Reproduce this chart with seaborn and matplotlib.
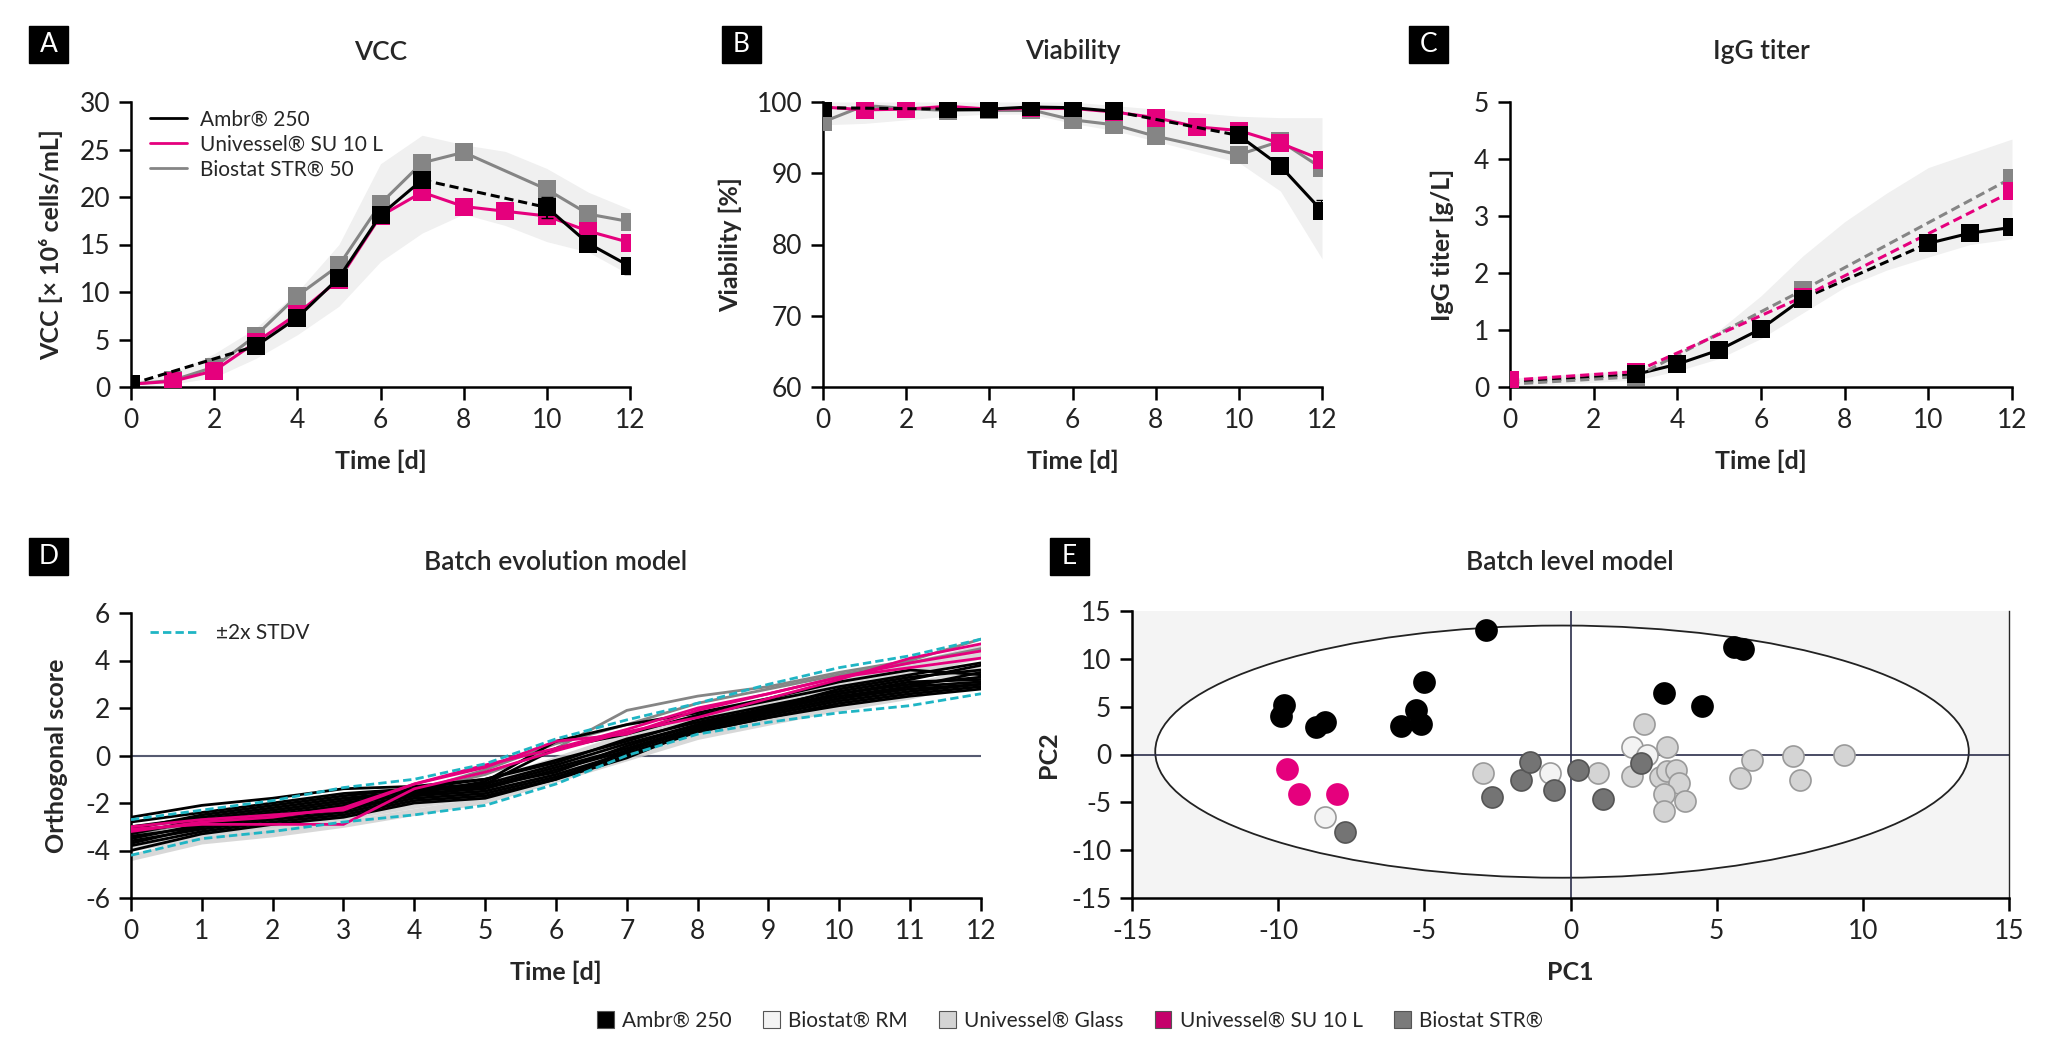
import numpy as np
import pandas as pd
import matplotlib
matplotlib.use("Agg")
import matplotlib.pyplot as plt
import seaborn as sns
from matplotlib.lines import Line2D
from matplotlib.patches import Patch, Ellipse, Rectangle

sns.set_style("ticks")
plt.rcParams['font.family'] = ['Lato', 'DejaVu Sans']
plt.rcParams['axes.unicode_minus'] = False

PINK = '#e5007d'
GREY = '#858585'
BAND = '#f0f0f0'

# ---------- A: VCC ----------
vcc_ambr_d = [0, 3, 4, 5, 6, 7, 10, 11, 12]
vcc_ambr = [0.3, 4.3, 7.3, 11.5, 18.1, 21.8, 18.9, 15.1, 12.7]
vcc_ambr_err = [0, 0, 0, 0, 0, 0, 1.1, 0, 0.8]
vcc_su_d = [0, 1, 2, 3, 4, 5, 6, 7, 8, 9, 10, 11, 12]
vcc_su = [0.3, 0.6, 1.7, 4.7, 7.7, 11.3, 18.0, 20.5, 19.0, 18.5, 18.0, 16.4, 15.2]
vcc_str_d = [0, 1, 2, 3, 4, 5, 6, 7, 8, 10, 11, 12]
vcc_str = [0.3, 0.7, 2.1, 5.4, 9.6, 12.8, 19.3, 23.6, 24.7, 20.8, 18.2, 17.4]
vcc_band_d = [0, 1, 2, 3, 4, 5, 6, 7, 8, 9, 10, 11, 12]
vcc_band_hi = [0.5, 1.5, 3.5, 6.2, 10.0, 15.0, 23.5, 26.5, 25.5, 24.8, 23.0, 20.5, 18.7]
vcc_band_lo = [0.0, 0.3, 1.0, 3.0, 5.5, 8.5, 13.2, 16.2, 18.2, 17.0, 15.3, 14.2, 11.8]

# ---------- B: Viability ----------
via_ambr_d = [0, 3, 4, 5, 6, 7, 10, 11, 12]
via_ambr = [99.2, 99.0, 99.0, 99.3, 99.2, 98.7, 95.3, 91.0, 84.7]
via_ambr_err = [0, 0, 0, 0, 0, 0, 0, 0, 1.5]
via_su_d = [0, 1, 2, 3, 4, 5, 6, 7, 8, 9, 10, 11, 12]
via_su = [99.3, 98.9, 99.0, 99.4, 99.0, 99.1, 99.1, 98.6, 97.8, 96.5, 96.0, 94.2, 91.9]
via_str_d = [0, 1, 2, 3, 4, 5, 6, 7, 8, 10, 11, 12]
via_str = [97.2, 99.5, 99.1, 98.8, 98.9, 98.9, 97.5, 96.8, 95.2, 92.6, 94.5, 90.7]
via_band_d = [0, 1, 2, 3, 4, 5, 6, 7, 8, 9, 10, 11, 12]
via_band_hi = [100, 100, 100, 100, 100, 100, 100, 99.5, 99.0, 98.5, 98.0, 97.8, 97.8]
via_band_lo = [96.8, 97.0, 97.5, 98.0, 98.3, 98.3, 97.0, 96.0, 94.5, 93.0, 91.5, 87.5, 78.0]

# ---------- C: IgG titer ----------
igg_ambr_d = [0, 3, 4, 5, 6, 7, 10, 11, 12]
igg_ambr = [0.08, 0.22, 0.40, 0.65, 1.02, 1.55, 2.52, 2.70, 2.80]
igg_su_d = [0, 3, 7, 12]
igg_su = [0.12, 0.27, 1.58, 3.43]
igg_str_d = [0, 3, 7, 12]
igg_str = [0.05, 0.18, 1.70, 3.67]
igg_band_d = [0, 3, 4, 5, 6, 7, 8, 9, 10, 11, 12]
igg_band_hi = [0.15, 0.30, 0.60, 1.00, 1.60, 2.30, 2.90, 3.40, 3.85, 4.10, 4.35]
igg_band_lo = [0.0, 0.12, 0.28, 0.50, 0.85, 1.30, 1.75, 2.05, 2.28, 2.50, 2.60]

# ---------- D: batch evolution model ----------
bem_days = list(range(13))
bem_black = [
    [-2.6, -2.1, -1.8, -1.4, -1.3, -1.0, -0.2, 0.6, 1.5, 2.1, 2.7, 3.2, 3.8],
    [-2.8, -2.4, -2.0, -1.6, -1.4, -1.2, -0.4, 0.5, 1.3, 1.9, 2.5, 2.9, 3.5],
    [-3.0, -2.6, -2.2, -1.8, -1.5, -1.3, -0.5, 0.3, 1.2, 1.8, 2.4, 2.9, 3.1],
    [-3.2, -2.8, -2.4, -2.0, -1.6, -1.4, -0.6, 0.2, 1.1, 1.7, 2.3, 2.7, 3.0],
    [-3.4, -3.0, -2.6, -2.2, -1.7, -1.5, -0.8, 0.1, 1.0, 1.6, 2.2, 2.6, 2.9],
    [-3.6, -3.1, -2.7, -2.4, -1.8, -1.6, -0.9, 0.0, 1.0, 1.6, 2.1, 2.5, 2.8],
    [-3.8, -3.2, -2.8, -2.5, -1.9, -1.7, -1.0, -0.1, 1.1, 1.8, 2.4, 2.8, 3.0],
    [-4.0, -3.3, -2.9, -2.6, -2.0, -1.8, -1.0, 0.2, 1.2, 1.9, 2.6, 3.0, 3.3],
    [-3.3, -2.7, -2.3, -1.9, -1.5, -1.2, 0.3, 0.9, 1.7, 2.3, 2.9, 3.4, 3.9],
    [-3.5, -2.9, -2.5, -2.1, -1.6, -1.1, 0.6, 1.3, 1.8, 2.4, 3.1, 3.6, 3.4],
    [-3.1, -2.5, -2.1, -1.7, -1.4, -1.0, -0.3, 0.7, 1.4, 2.0, 2.8, 3.3, 3.6],
    [-3.7, -3.0, -2.6, -2.3, -1.7, -1.3, -0.7, 0.4, 1.3, 2.0, 2.6, 3.1, 3.2],
]
bem_grey = [
    [-3.3, -2.8, -2.4, -1.9, -1.5, -0.8, 0.3, 1.9, 2.5, 2.9, 3.5, 4.0, 4.9],
    [-3.0, -2.7, -2.3, -2.0, -1.5, -0.6, 0.5, 1.3, 2.2, 2.8, 3.4, 3.9, 4.5],
]
bem_light = [
    [-4.3, -3.6, -3.3, -2.9, -2.4, -1.9, -1.0, -0.1, 0.8, 1.4, 2.0, 2.5, 3.2],
    [-3.9, -3.4, -3.1, -2.6, -2.1, -1.6, -0.7, 0.2, 1.0, 1.6, 2.3, 2.9, 3.6],
    [-3.6, -3.2, -2.9, -2.4, -1.9, -1.4, -0.5, 0.5, 1.3, 2.0, 2.8, 3.5, 4.2],
    [-3.4, -3.0, -2.7, -2.2, -1.7, -1.2, -0.2, 0.8, 1.6, 2.3, 3.1, 3.8, 4.5],
]
bem_pink = [
    [-3.0, -2.7, -2.5, -2.3, -1.2, -0.5, 0.6, 0.9, 1.9, 2.6, 3.3, 3.9, 4.4],
    [-3.1, -2.9, -2.9, -2.9, -1.4, -0.7, 0.2, 1.0, 1.6, 2.4, 3.2, 4.1, 4.7],
    [-3.2, -2.8, -2.6, -2.2, -1.2, -0.4, 0.3, 1.1, 2.0, 2.6, 3.3, 3.7, 4.1],
]
bem_upper = [-2.7, -2.3, -1.9, -1.35, -1.0, -0.35, 0.7, 1.5, 2.2, 3.0, 3.7, 4.2, 4.9]
bem_lower = [-4.2, -3.5, -3.2, -2.8, -2.5, -2.1, -1.2, 0.0, 0.9, 1.4, 1.8, 2.1, 2.6]

# ---------- E: batch level model ----------
blm_groups = ['Ambr® 250', 'Biostat® RM', 'Univessel® Glass', 'Univessel® SU 10 L', 'Biostat STR®']
blm_ambr_x = [-2.9, 5.6, 5.9, 3.2, 4.5, -5.0, -5.3, -5.1, -5.8, -9.8, -9.9, -8.7, -8.4]
blm_ambr_y = [13.0, 11.2, 11.0, 6.4, 5.1, 7.6, 4.7, 3.2, 3.0, 5.2, 4.0, 2.9, 3.4]
blm_rm_x = [-8.4, -0.7, 2.1, 2.6]
blm_rm_y = [-6.5, -1.9, 0.8, 0.0]
blm_glass_x = [-3.0, 0.95, 2.1, 2.5, 3.3, 3.05, 3.3, 3.6, 3.7, 3.2, 3.9, 3.2, 5.8, 6.2, 7.6, 7.85, 9.35]
blm_glass_y = [-1.9, -1.9, -2.2, 3.2, 0.8, -2.3, -1.75, -1.65, -3.0, -4.1, -4.9, -5.9, -2.45, -0.6, -0.2, -2.7, 0.0]
blm_su_x = [-9.7, -9.3, -8.0]
blm_su_y = [-1.5, -4.1, -4.1]
blm_str_x = [-7.7, -2.7, -1.7, -1.4, -0.55, 0.27, 1.1, 2.4]
blm_str_y = [-8.05, -4.4, -2.7, -0.8, -3.7, -1.6, -4.7, -0.9]
blm_fill = {'Ambr® 250': '#000000', 'Biostat® RM': '#f3f3f3', 'Univessel® Glass': '#d4d4d4',
            'Univessel® SU 10 L': PINK, 'Biostat STR®': '#747474'}
blm_edge = {'Ambr® 250': '#000000', 'Biostat® RM': '#9a9a9a', 'Univessel® Glass': '#9a9a9a',
            'Univessel® SU 10 L': PINK, 'Biostat STR®': '#555555'}
legend_fill = ['#000000', '#f3f3f3', '#d4d4d4', '#c4006b', '#7a7a7a']

TICK_FS = 19
LABEL_FS = 18


def style_axis(ax):
    for s in ['top', 'right']:
        ax.spines[s].set_visible(False)
    for s in ['left', 'bottom']:
        ax.spines[s].set_linewidth(1.8)
        ax.spines[s].set_color('black')
    ax.tick_params(direction='out', length=9, width=1.8, labelsize=TICK_FS, pad=6,
                   colors='black', labelcolor='#222222')


def draw_series(ax, days, vals, color, gap_dash=False, all_dash=False, z=3):
    for i in range(len(days) - 1):
        dashed = all_dash or (gap_dash and days[i + 1] - days[i] > 1)
        ax.plot(days[i:i + 2], vals[i:i + 2], color=color, lw=2.2,
                ls=(0, (3, 1.6)) if dashed else '-', zorder=z)
    sns.scatterplot(x=days, y=vals, ax=ax, marker='s', s=170, color=color,
                    linewidth=0, zorder=z + 0.5, legend=False)


fig = plt.figure(figsize=(20.59, 10.38), dpi=100)

W, H = 2059, 1038


def axes_px(l, t, r, b):
    return fig.add_axes([l / W, 1 - b / H, (r - l) / W, (b - t) / H])


def letter(x, y, txt):
    fig.patches.append(Rectangle((x / W, 1 - (y + 37) / H), 39 / W, 37 / H,
                                 transform=fig.transFigure, color='black'))
    fig.text((x + 19.5) / W, 1 - (y + 18.5) / H, txt, color='white', fontsize=19,
             ha='center', va='center')


# Panel A
axA = axes_px(131, 102, 630, 387)
axA.fill_between(vcc_band_d, vcc_band_lo, vcc_band_hi, color=BAND, lw=0, zorder=1)
draw_series(axA, vcc_str_d, vcc_str, GREY)
draw_series(axA, vcc_su_d, vcc_su, PINK)
draw_series(axA, vcc_ambr_d, vcc_ambr, 'black', gap_dash=True, z=5)
axA.errorbar(vcc_ambr_d, vcc_ambr, yerr=vcc_ambr_err, fmt='none', ecolor='black',
             elinewidth=1.5, capsize=4, zorder=6)
axA.set_xlim(0, 12)
axA.set_ylim(0, 30)
axA.set_xticks(range(0, 13, 2))
axA.set_yticks(range(0, 31, 5))
style_axis(axA)
axA.set_xlabel('Time [d]', fontsize=LABEL_FS, fontweight='bold', labelpad=12)
axA.set_ylabel('VCC [× 10⁶ cells/mL]', fontsize=LABEL_FS, fontweight='bold', labelpad=12)
axA.legend(handles=[Line2D([0], [0], color='black', lw=2),
                    Line2D([0], [0], color=PINK, lw=2),
                    Line2D([0], [0], color=GREY, lw=2)],
           labels=['Ambr® 250', 'Univessel® SU 10 L', 'Biostat STR® 50'],
           loc='upper left', bbox_to_anchor=(0.0, 1.04), frameon=False, fontsize=15,
           handlelength=1.8, handletextpad=0.6, labelspacing=0.25)

# Panel B
axB = axes_px(823, 102, 1322, 387)
axB.fill_between(via_band_d, via_band_lo, via_band_hi, color=BAND, lw=0, zorder=1)
draw_series(axB, via_str_d, via_str, GREY)
draw_series(axB, via_su_d, via_su, PINK)
draw_series(axB, via_ambr_d, via_ambr, 'black', gap_dash=True, z=5)
axB.errorbar(via_ambr_d, via_ambr, yerr=[[0] * len(via_ambr_err), via_ambr_err], fmt='none',
             ecolor='black', elinewidth=1.5, capsize=4, zorder=6)
axB.set_xlim(0, 12)
axB.set_ylim(60, 100)
axB.set_xticks(range(0, 13, 2))
axB.set_yticks(range(60, 101, 10))
style_axis(axB)
axB.set_xlabel('Time [d]', fontsize=LABEL_FS, fontweight='bold', labelpad=12)
axB.set_ylabel('Viability [%]', fontsize=LABEL_FS, fontweight='bold', labelpad=10)

# Panel C
axC = axes_px(1510, 102, 2012, 387)
axC.fill_between(igg_band_d, igg_band_lo, igg_band_hi, color=BAND, lw=0, zorder=1)
draw_series(axC, igg_ambr_d, igg_ambr, 'black', gap_dash=True, z=3)
draw_series(axC, igg_str_d, igg_str, GREY, all_dash=True, z=4)
draw_series(axC, igg_su_d, igg_su, PINK, all_dash=True, z=4.2)
sns.scatterplot(x=igg_ambr_d[1:], y=igg_ambr[1:], ax=axC, marker='s', s=170, color='black',
                linewidth=0, zorder=6, legend=False)
axC.set_xlim(0, 12)
axC.set_ylim(0, 5)
axC.set_xticks(range(0, 13, 2))
axC.set_yticks(range(0, 6))
style_axis(axC)
axC.set_xlabel('Time [d]', fontsize=LABEL_FS, fontweight='bold', labelpad=12)
axC.set_ylabel('IgG titer [g/L]', fontsize=LABEL_FS, fontweight='bold', labelpad=14)

# Panel D
axD = axes_px(131, 613, 981, 898)


def lines_df(group):
    rows = []
    for k, ln in enumerate(group):
        for d, v in zip(bem_days, ln):
            rows.append((k, d, v))
    return pd.DataFrame(rows, columns=['run', 'day', 'score'])


sns.lineplot(data=lines_df(bem_light), x='day', y='score', units='run', estimator=None,
             color='#cfcfcf', lw=5, alpha=0.8, ax=axD, zorder=2)
sns.lineplot(data=lines_df(bem_grey), x='day', y='score', units='run', estimator=None,
             color=GREY, lw=2, ax=axD, zorder=3)
sns.lineplot(data=lines_df(bem_black), x='day', y='score', units='run', estimator=None,
             color='black', lw=2, ax=axD, zorder=4)
sns.lineplot(data=lines_df(bem_pink), x='day', y='score', units='run', estimator=None,
             color=PINK, lw=2, ax=axD, zorder=5)
axD.plot(bem_days, bem_upper, color='#1fb5c4', lw=2, ls=(0, (3, 1.5)), zorder=6)
axD.plot(bem_days, bem_lower, color='#1fb5c4', lw=2, ls=(0, (3, 1.5)), zorder=6)
axD.axhline(0, color='#555a70', lw=1.5, zorder=1)
axD.set_xlim(0, 12)
axD.set_ylim(-6, 6)
axD.set_xticks(range(0, 13))
axD.set_yticks(range(-6, 7, 2))
style_axis(axD)
axD.set_xlabel('Time [d]', fontsize=LABEL_FS, fontweight='bold', labelpad=12)
axD.set_ylabel('Orthogonal score', fontsize=LABEL_FS, fontweight='bold', labelpad=12)
axD.legend(handles=[Line2D([0], [0], color='#1fb5c4', lw=2, ls=(0, (3, 1.5)))],
           labels=['±2x STDV'], loc='upper left', bbox_to_anchor=(0.0, 1.03),
           frameon=False, fontsize=15, handlelength=2.4)

# Panel E
axE = axes_px(1132, 611, 2009, 898)
axE.set_facecolor('#f4f4f4')
axE.add_patch(Ellipse((-0.29, 0.3), 27.83, 26.36, facecolor='white', edgecolor='#222222',
                      lw=1.3, zorder=1))
axE.axhline(0, color='#2b2d4a', lw=1.2, zorder=2)
axE.axvline(0, color='#2b2d4a', lw=1.2, zorder=2)
blm = pd.DataFrame({
    'PC1': blm_ambr_x + blm_rm_x + blm_glass_x + blm_su_x + blm_str_x,
    'PC2': blm_ambr_y + blm_rm_y + blm_glass_y + blm_su_y + blm_str_y,
    'system': ([blm_groups[0]] * len(blm_ambr_x) + [blm_groups[1]] * len(blm_rm_x)
               + [blm_groups[2]] * len(blm_glass_x) + [blm_groups[3]] * len(blm_su_x)
               + [blm_groups[4]] * len(blm_str_x)),
})
for g in blm_groups:
    sub = blm[blm['system'] == g]
    sns.scatterplot(data=sub, x='PC1', y='PC2', ax=axE, color=blm_fill[g],
                    edgecolor=blm_edge[g], linewidth=1.2, s=230, zorder=3, legend=False)
axE.set_xlim(-15, 15)
axE.set_ylim(-15, 15)
axE.set_xticks(range(-15, 16, 5))
axE.set_yticks(range(-15, 16, 5))
style_axis(axE)
axE.spines['right'].set_visible(True)
axE.spines['right'].set_linewidth(1.0)
axE.set_xlabel('PC1', fontsize=LABEL_FS, fontweight='bold', labelpad=12)
axE.set_ylabel('PC2', fontsize=LABEL_FS, fontweight='bold', labelpad=8)

# titles and panel letters
for txt, cx, cy in [('VCC', 381, 52), ('Viability', 1073, 52), ('IgG titer', 1761, 52),
                    ('Batch evolution model', 556, 562), ('Batch level model', 1570, 562)]:
    fig.text(cx / W, 1 - cy / H, txt, ha='center', va='center', fontsize=19, fontweight='semibold')
for txt, x, y in [('A', 29, 26), ('B', 722, 26), ('C', 1409, 26), ('D', 29, 538), ('E', 1050, 538)]:
    letter(x, y, txt)

fig.legend(handles=[Patch(facecolor=c, edgecolor='#555555', lw=0.8) for c in legend_fill],
           labels=blm_groups, loc='center', bbox_to_anchor=(1070 / W, 1 - 1021 / H), ncol=5,
           frameon=False, fontsize=15, handlelength=0.8, handleheight=0.9,
           handletextpad=0.4, columnspacing=1.5)

fig.savefig('out.png', dpi=100)
